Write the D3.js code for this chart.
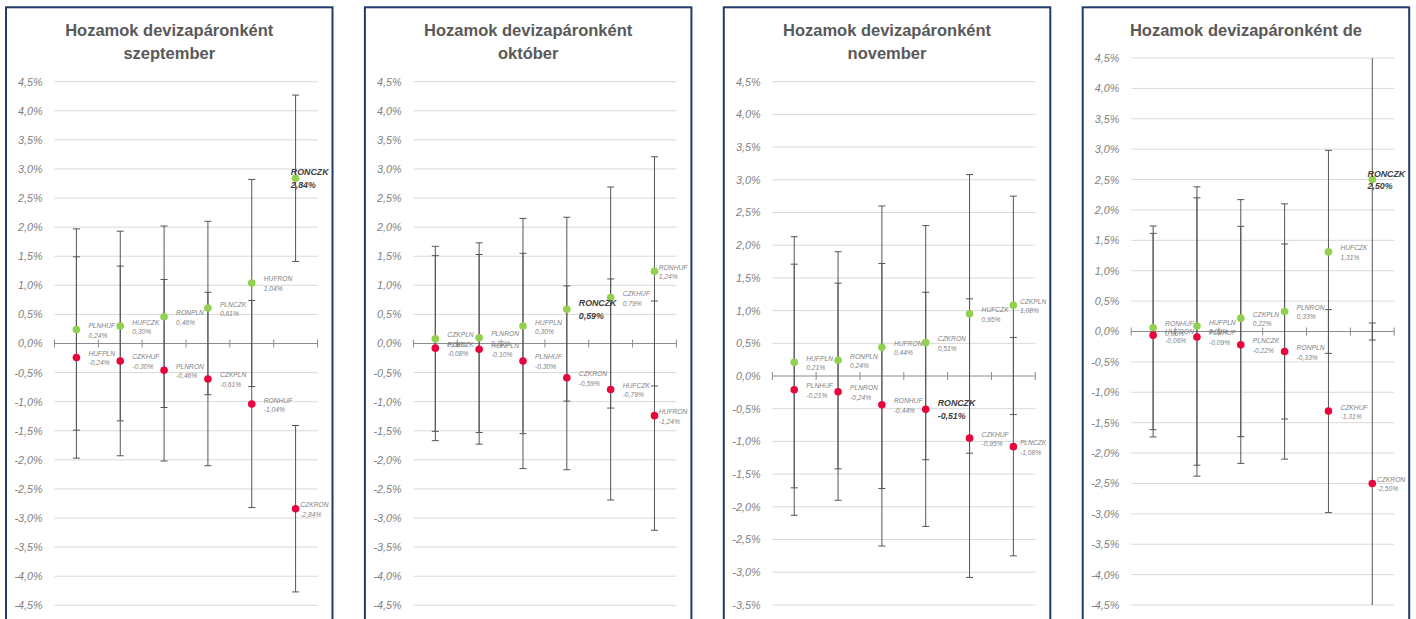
<!DOCTYPE html>
<html>
<head>
<meta charset="utf-8">
<script src="https://cdn.jsdelivr.net/npm/d3@7"></script>
<style>
  html, body { margin: 0; padding: 0; background: #ffffff; }
  svg { display: block; }
</style>
</head>
<body>
<svg id="chart" width="1416" height="619"></svg>
<script>
// Monthly returns per currency pair (percent). Each column holds a pair and its inverse:
// the pair's return is shown in green, the inverse (negated) in red, both with the same ± band.
const titles = [
  ["Hozamok devizapáronként", "szeptember"],
  ["Hozamok devizapáronként", "október"],
  ["Hozamok devizapáronként", "november"],
  ["Hozamok devizapáronként de"]
];

const sepPairs   = ["PLNHUF", "HUFCZK", "RONPLN", "PLNCZK", "HUFRON", "RONCZK"];
const sepInverse = ["HUFPLN", "CZKHUF", "PLNRON", "CZKPLN", "RONHUF", "CZKRON"];
const sepReturns = [0.24, 0.30, 0.46, 0.61, 1.04, 2.84];
const sepBands   = [1.73, 1.63, 1.56, 1.49, 1.78, 1.43];

const octPairs   = ["CZKPLN", "PLNRON", "HUFPLN", "RONCZK", "CZKHUF", "RONHUF"];
const octInverse = ["PLNCZK", "RONPLN", "PLNHUF", "CZKRON", "HUFCZK", "HUFRON"];
const octReturns = [0.08, 0.10, 0.30, 0.59, 0.79, 1.24];
const octBands   = [1.59, 1.63, 1.85, 1.58, 1.90, 1.97];

const novPairs   = ["HUFPLN", "RONPLN", "HUFRON", "CZKRON", "HUFCZK", "CZKPLN"];
const novInverse = ["PLNHUF", "PLNRON", "RONHUF", "RONCZK", "CZKHUF", "PLNCZK"];
const novReturns = [0.21, 0.24, 0.44, 0.51, 0.95, 1.08];
const novBands   = [1.92, 1.66, 2.16, 1.79, 2.13, 1.67];

const decPairs   = ["RONHUF", "HUFPLN", "CZKPLN", "PLNRON", "HUFCZK", "RONCZK"];
const decInverse = ["HUFRON", "PLNHUF", "PLNCZK", "RONPLN", "CZKHUF", "CZKRON"];
const decReturns = [0.06, 0.09, 0.22, 0.33, 1.31, 2.50];
const decBands   = [1.675, 2.29, 1.95, 1.77, 1.67, 2.64];

const yTicks = d3.range(-4.5, 4.501, 0.5);
const highlightPair = "RONCZK";

const panels = [
  { title: titles[0], pairs: sepPairs, inverse: sepInverse, returns: sepReturns, bands: sepBands },
  { title: titles[1], pairs: octPairs, inverse: octInverse, returns: octReturns, bands: octBands },
  { title: titles[2], pairs: novPairs, inverse: novInverse, returns: novReturns, bands: novBands },
  { title: titles[3], pairs: decPairs, inverse: decInverse, returns: decReturns, bands: decBands }
];

// ---- layout ----
const W = 1416, H = 619;
const frameX0 = 6, frameStep = 358.9, frameW = 326.5, frameTop = 7.3;
const plotLeftOff = 48.5, plotRightOff = 311.5;
const plotBottoms = [605.3, 605.3, 670.3, 605];
const colors = { up: "#92d050", down: "#e8063c", bar: "#555555", grid: "#d9d9d9",
                 axis: "#8c8c8c", text: "#7f7f7f", title: "#595959", bold: "#404040",
                 frame: "#203b6c" };
const font = "'Liberation Sans', Arial, sans-serif";

const fmtVal = v => (v < 0 ? "-" : "") + Math.abs(v).toFixed(2).replace(".", ",") + "%";
const fmtTick = v => (v < -1e-9 ? "-" : "") + Math.abs(v).toFixed(1).replace(".", ",") + "%";

const svg = d3.select("#chart");
const defs = svg.append("defs");

panels.forEach((p, pi) => {
  const fx = frameX0 + pi * frameStep;
  const g = svg.append("g");

  const plotTop = p.title.length > 1 ? 81.7 : 58;
  const plotBottom = plotBottoms[pi];
  const y = d3.scaleLinear().domain([-4.5, 4.5]).range([plotBottom, plotTop]);
  const x = d3.scaleBand().domain(d3.range(p.pairs.length))
    .range([fx + plotLeftOff, fx + plotRightOff]).padding(0);
  const cx = i => x(i) + x.bandwidth() / 2;
  // only ticks that land inside the page are drawn
  const visibleTicks = yTicks.filter(t => y(t) < H - 6);

  // frame (open at the bottom of the page)
  g.append("rect")
    .attr("x", fx).attr("y", frameTop).attr("width", frameW).attr("height", 700)
    .attr("fill", "#ffffff").attr("stroke", colors.frame).attr("stroke-width", 2);

  // title
  const title = g.append("text")
    .attr("x", fx + frameW / 2).attr("y", 36)
    .attr("text-anchor", "middle")
    .attr("font-family", font).attr("font-weight", "bold")
    .attr("font-size", 16.5).attr("fill", colors.title);
  p.title.forEach((line, li) => {
    title.append("tspan").attr("x", fx + frameW / 2).attr("dy", li === 0 ? 0 : 23).text(line);
  });

  // gridlines
  g.append("g").selectAll("line")
    .data(visibleTicks.filter(t => Math.abs(t) > 1e-9))
    .join("line")
    .attr("x1", x.range()[0]).attr("x2", x.range()[1])
    .attr("y1", d => y(d)).attr("y2", d => y(d))
    .attr("stroke", colors.grid).attr("stroke-width", 1);

  // y axis labels
  const yAxis = d3.axisLeft(y).tickValues(visibleTicks).tickFormat(fmtTick).tickSize(0).tickPadding(0);
  const ya = g.append("g").attr("transform", `translate(${fx + 36.7},0)`).call(yAxis);
  ya.select(".domain").remove();
  ya.selectAll("text")
    .attr("font-family", font).attr("font-style", "italic")
    .attr("font-size", 10.8).attr("fill", colors.text);

  // category axis at zero with crossing ticks
  const bounds = x.domain().map(i => x(i)).concat([x.range()[1]]);
  g.append("line")
    .attr("x1", x.range()[0]).attr("x2", x.range()[1])
    .attr("y1", y(0)).attr("y2", y(0))
    .attr("stroke", colors.axis).attr("stroke-width", 1);
  g.append("g").selectAll("line").data(bounds).join("line")
    .attr("x1", d => d).attr("x2", d => d)
    .attr("y1", y(0) - 4).attr("y2", y(0) + 4)
    .attr("stroke", colors.axis).attr("stroke-width", 1);

  // clip for error bars
  const clipId = "clip" + pi;
  defs.append("clipPath").attr("id", clipId).append("rect")
    .attr("x", fx).attr("y", plotTop).attr("width", frameW).attr("height", plotBottom - plotTop);

  const pts = [];
  p.pairs.forEach((name, i) => {
    pts.push({ i, name, v: p.returns[i], e: p.bands[i], up: true });
    pts.push({ i, name: p.inverse[i], v: -p.returns[i], e: p.bands[i], up: false });
  });

  const bars = g.append("g").attr("clip-path", `url(#${clipId})`);
  pts.forEach(d => {
    const px = cx(d.i);
    bars.append("line")
      .attr("x1", px).attr("x2", px)
      .attr("y1", y(d.v + d.e)).attr("y2", y(d.v - d.e))
      .attr("stroke", colors.bar).attr("stroke-width", 1);
    [d.v + d.e, d.v - d.e].forEach(c => {
      bars.append("line")
        .attr("x1", px - 3.5).attr("x2", px + 3.5)
        .attr("y1", y(c)).attr("y2", y(c))
        .attr("stroke", colors.bar).attr("stroke-width", 1);
    });
  });

  // points
  g.append("g").selectAll("circle").data(pts).join("circle")
    .attr("cx", d => cx(d.i)).attr("cy", d => y(d.v)).attr("r", 3.8)
    .attr("fill", d => d.up ? colors.up : colors.down);

  // data labels: placed right of the point, pulled back inside the frame when needed
  const labels = g.append("g");
  pts.forEach(d => {
    const bold = d.name === highlightPair;
    const px = cx(d.i), py = y(d.v);
    const t = labels.append("text")
      .attr("font-family", font).attr("font-style", "italic")
      .attr("font-weight", bold ? "bold" : "normal")
      .attr("font-size", bold ? 8.8 : 6.7)
      .attr("fill", bold ? colors.bold : colors.text);
    const l1 = t.append("tspan").attr("y", py + (bold ? -3 : -1.5)).text(d.name);
    const l2 = t.append("tspan").attr("y", py + (bold ? 9.8 : 8)).text(fmtVal(d.v));
    const w = Math.max(l1.node().getComputedTextLength(), l2.node().getComputedTextLength());
    const lx = Math.min(px + 12, fx + frameW - 4 - w);
    l1.attr("x", lx); l2.attr("x", lx);
  });
});
</script>
</body>
</html>
